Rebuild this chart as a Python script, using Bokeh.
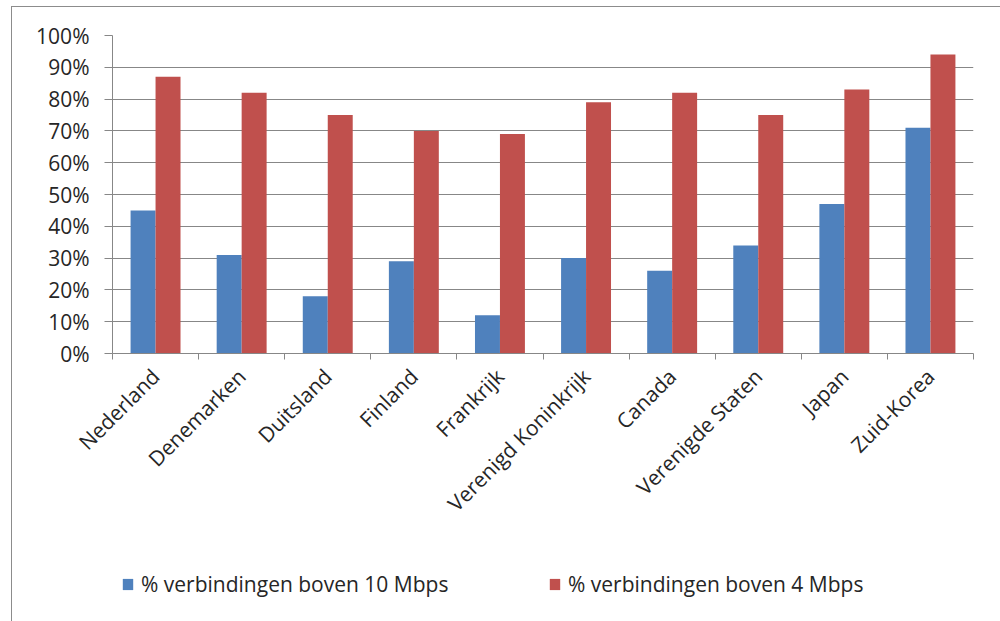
import math
from bokeh.plotting import figure
from bokeh.layouts import column
from bokeh.models import (ColumnDataSource, FixedTicker, NumeralTickFormatter,
                          Legend, LegendItem, LinearAxis, Range1d)
from bokeh.embed import file_html
from bokeh.resources import INLINE

countries = ["Nederland", "Denemarken", "Duitsland", "Finland", "Frankrijk",
             "Verenigd Koninkrijk", "Canada", "Verenigde Staten", "Japan", "Zuid-Korea"]
above_10_mbps = [45, 31, 18, 29, 12, 30, 26, 34, 47, 71]
above_4_mbps = [87, 82, 75, 70, 69, 79, 82, 75, 83, 94]
y_ticks = [0, 10, 20, 30, 40, 50, 60, 70, 80, 90, 100]
series_names = ["% verbindingen boven 10 Mbps", "% verbindingen boven 4 Mbps"]

BLUE = "#4F81BD"
RED = "#C0504D"
GRID = "#878787"
TEXT = "#262626"
FONT = "Open Sans"
FS = "21px"

n = len(countries)
centers = [i + 0.5 for i in range(n)]
bar_w = 0.29

src = ColumnDataSource(dict(
    x10=[c - bar_w / 2 for c in centers],
    x4=[c + bar_w / 2 for c in centers],
    v10=[v / 100 for v in above_10_mbps],
    v4=[v / 100 for v in above_4_mbps],
))

# ---- main chart -------------------------------------------------------
p = figure(width=988, height=560, output_backend="svg", toolbar_location=None,
           x_range=Range1d(0, n), y_range=Range1d(0, 1),
           min_border_left=100, min_border_right=27, min_border_top=28,
           min_border_bottom=214)
p.outline_line_color = None
p.background_fill_color = "white"
p.border_fill_color = "white"

p.vbar(x="x10", top="v10", width=bar_w, source=src, fill_color=BLUE, line_color=None)
p.vbar(x="x4", top="v4", width=bar_w, source=src, fill_color=RED, line_color=None)

# x axis line with tick marks on the category boundaries
p.xaxis.ticker = FixedTicker(ticks=list(range(n + 1)))
p.xaxis.major_label_overrides = {i: "" for i in range(n + 1)}
p.xaxis.major_label_standoff = 0
p.xaxis.major_tick_out = 6
p.xaxis.major_tick_in = 0
p.xaxis.minor_tick_line_color = None
p.xaxis.major_tick_line_color = GRID
p.xaxis.axis_line_color = GRID
p.xgrid.visible = False

# category names, centred under each pair of bars
names_axis = LinearAxis(ticker=FixedTicker(ticks=centers),
                        major_label_overrides={c: name for c, name in zip(centers, countries)},
                        major_label_orientation=math.pi / 4,
                        axis_line_color=None, major_tick_line_color=None,
                        minor_tick_line_color=None, major_tick_out=0, major_tick_in=0,
                        major_label_standoff=13,
                        major_label_text_font=FONT, major_label_text_font_size=FS,
                        major_label_text_color=TEXT)
p.add_layout(names_axis, "below")

# y axis: percentages
p.yaxis.ticker = FixedTicker(ticks=[t / 100 for t in y_ticks])
p.yaxis.formatter = NumeralTickFormatter(format="0%")
p.yaxis.major_tick_out = 8
p.yaxis.major_tick_in = 0
p.yaxis.minor_tick_line_color = None
p.yaxis.major_tick_line_color = GRID
p.yaxis.axis_line_color = GRID
p.yaxis.major_label_text_font = FONT
p.yaxis.major_label_text_font_size = FS
p.yaxis.major_label_text_color = TEXT
p.yaxis.major_label_standoff = 15
p.ygrid.grid_line_color = GRID
p.ygrid.ticker = FixedTicker(ticks=[t / 100 for t in y_ticks])

# ---- legend strip -----------------------------------------------------
# the key glyphs share the bar data but sit outside this strip's y range
leg = figure(width=988, height=54, output_backend="svg", toolbar_location=None,
             x_range=Range1d(0, n), y_range=Range1d(5, 6),
             min_border=0, x_axis_location=None, y_axis_location=None)
leg.outline_line_color = None
leg.grid.visible = False
k10 = leg.vbar(x="x10", top="v10", width=bar_w, source=src, fill_color=BLUE, line_color=None)
k4 = leg.vbar(x="x4", top="v4", width=bar_w, source=src, fill_color=RED, line_color=None)

for renderer, name, loc in [(k10, series_names[0], (9, 23)), (k4, series_names[1], (436, 23))]:
    lg = Legend(items=[LegendItem(label=name, renderers=[renderer])], location=loc,
                orientation="horizontal", padding=0, margin=0, border_line_color=None,
                background_fill_alpha=0, glyph_width=13, glyph_height=14,
                label_standoff=7, label_text_font=FONT, label_text_font_size=FS,
                label_text_color=TEXT)
    leg.add_layout(lg, "center")

page = column(p, leg, spacing=0,
              styles={"margin-left": "11px", "margin-top": "6px",
                      "border-left": "1px solid #8c8c8c", "border-top": "1px solid #8c8c8c"})

open("out.html", "w").write(file_html(page, INLINE))
